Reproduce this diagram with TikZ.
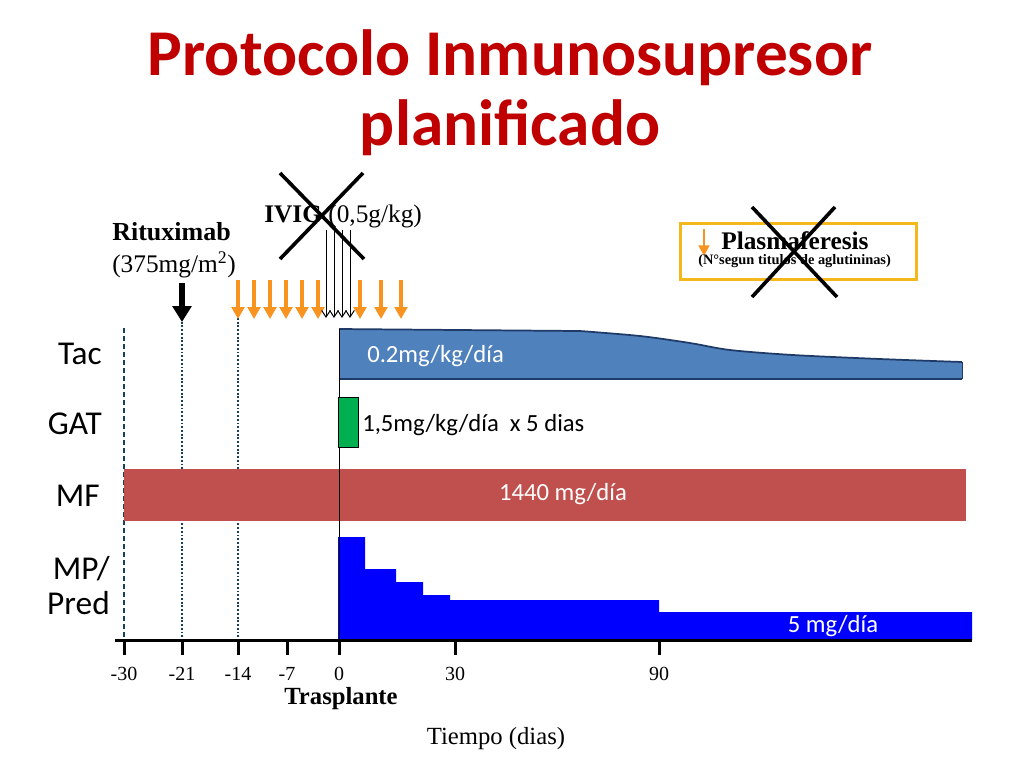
\documentclass[tikz,border=0pt]{standalone}
\usepackage{fontspec}
\setmainfont{Liberation Serif}
\newfontfamily\calfont{Carlito}
\usetikzlibrary{arrows.meta}
\definecolor{titred}{HTML}{C00000}
\definecolor{tacblue}{HTML}{4F81BD}
\definecolor{tacdark}{HTML}{1F3A66}
\definecolor{mfred}{HTML}{C0504D}
\definecolor{gatgreen}{HTML}{00B050}
\definecolor{mpblue}{HTML}{0000FF}
\definecolor{orng}{HTML}{F7931E}
\definecolor{gold}{HTML}{F5B81C}
\definecolor{guide}{HTML}{17405A}
\tikzset{
  ttl/.style={font=\calfont\bfseries\fontsize{49}{58}\selectfont, text=titred, anchor=base, inner sep=0},
  rowlab/.style={font=\calfont\fontsize{25}{30}\selectfont, anchor=base east, inner sep=0},
  inbar/.style={font=\calfont\fontsize{18.5}{22}\selectfont, inner sep=0},
  serif/.style={font=\fontsize{18}{21}\selectfont, inner sep=0},
  ticklab/.style={font=\fontsize{15}{18}\selectfont, anchor=base, inner sep=0},
  orarrow/.style={draw=orng, line width=2.4pt, -{Triangle[width=9.5pt,length=9pt]}},
  ivarrow/.style={draw=black, line width=0.75pt, -{Straight Barb[width=6.5pt,length=5pt]}},
  cross/.style={draw=black, line width=2.7pt},
  guidedash/.style={draw=guide, line width=1.1pt, dash pattern=on 3.75pt off 2.25pt},
  guidedot/.style={draw=guide, line width=2pt, dash pattern=on 1.4pt off 1.4pt},
  tick/.style={line width=2.25pt},
}
\begin{document}
\begin{tikzpicture}[x=0.75pt,y=-0.75pt]
\useasboundingbox (0,0) rectangle (1024,768);
% title
\node[ttl] (t1) at (510,75) {Protocolo Inmunosupresor};
\node[ttl] (t2) at (510,145) {planificado};

% guide lines
\coordinate (g30t) at (124,328); \coordinate (g30b) at (124,640);
\coordinate (g21t) at (182,318); \coordinate (g21b) at (182,640);
\coordinate (g14t) at (238,318); \coordinate (g14b) at (238,640);
\draw[guidedash] (g30t) -- (g30b);
\draw[guidedot] (g21t) -- (g21b);
\draw[guidedot] (g14t) -- (g14b);

% MF bar
\fill[mfred] (124,469) rectangle (966,521);
\node[inbar, text=white, anchor=base] (mftxt) at (563,500) {1440 mg/día};

% Tac bar
\fill[tacblue] (339,329) -- (578,331) -- plot[smooth] coordinates {(580,331) (640,336) (690,343) (730,350) (793,355) (880,359) (962,362)} -- (962,379) -- (339,379) -- cycle;
\draw[tacdark, line width=1.3pt] (339,329) -- (578,331) -- plot[smooth] coordinates {(580,331) (640,336) (690,343) (730,350) (793,355) (880,359) (962,362)};
\draw[tacdark, line width=1.3pt] (339,379) -- (962,379);
\draw[tacdark, line width=0.6pt] (962,362) -- (962,379);
\node[inbar, text=white, anchor=base west] (tactxt) at (367,362) {0.2mg/kg/día};

% MP/Pred staircase
\fill[mpblue] (338,640) -- (338,537) -- (365,537) -- (365,569) -- (396,569) -- (396,582) -- (423,582) -- (423,595) -- (450,595) -- (450,600) -- (659,600) -- (659,612) -- (972,612) -- (972,640) -- cycle;
\node[inbar, text=white, anchor=base] (mptxt) at (833,632) {5 mg/día};

% day-0 vertical line
\coordinate (d0t) at (339,329); \coordinate (d0b) at (339,640);
\draw[black, line width=0.75pt] (d0t) -- (d0b);

% GAT box
\draw[fill=gatgreen, draw=black, line width=0.75pt] (338,397) rectangle (358,447);
\node[inbar, anchor=base west] (gattxt) at (362,431) {1,5mg/kg/día\ \ x 5 dias};

% axis
\coordinate (axL) at (115,640); \coordinate (axR) at (972,640);
\draw[line width=2.25pt] (axL) -- (axR);
\foreach \x/\l in {124/-30,182/-21,238/-14,287/-7,339/0,455/30,659/90}{
  \draw[tick] (\x,640) -- (\x,655);
  \node[ticklab] (tk\l) at (\x,680) {\l};
}
\node[serif, font=\bfseries\fontsize{18.5}{21}\selectfont, anchor=base] (trasp) at (341,704) {Trasplante};
\node[serif, font=\fontsize{18.5}{21}\selectfont, anchor=base] (tiempo) at (496,744) {Tiempo (dias)};

% row labels
\node[rowlab] (ltac) at (102,364) {Tac};
\node[rowlab] (lgat) at (102,434) {GAT};
\node[rowlab] (lmf) at (100,506) {MF};
\node[rowlab] (lmp) at (110,579) {MP/};
\node[rowlab] (lpred) at (110,614) {Pred};

% Rituximab
\node[serif, font=\bfseries\fontsize{19.5}{22}\selectfont, anchor=base west] (ritux) at (112,240) {Rituximab};
\node[serif, font=\fontsize{19}{22}\selectfont, anchor=base west] (rdose) at (112,272) {(375mg/m\textsuperscript{2})};
\coordinate (ra1) at (182,283); \coordinate (ra2) at (182,322);
\draw[line width=4pt, -{Triangle[width=14pt,length=12pt]}] (ra1) -- (ra2);

% orange arrows
\foreach \x [count=\i] in {238,254,270,286,302,318,360,381,401}{
  \coordinate (oa\i) at (\x,280); \coordinate (ob\i) at (\x,319);
  \draw[orarrow] (oa\i) -- (ob\i);
}

% IVIG
\node[serif, font=\fontsize{19}{22}\selectfont, anchor=base west] (ivig) at (264,222) {\textbf{IVIG} (0,5g/kg)};
\foreach \x [count=\i] in {326,334,342,350}{
  \coordinate (ia\i) at (\x,230); \coordinate (ib\i) at (\x,318);
  \draw[ivarrow] (ia\i) -- (ib\i);
}
\coordinate (x1a) at (280,173); \coordinate (x1b) at (364,259);
\coordinate (x2a) at (363,173); \coordinate (x2b) at (280,259);
\draw[cross] (x1a) -- (x1b);
\draw[cross] (x2a) -- (x2b);

% Plasmaferesis box
\draw[gold, line width=2.25pt] (680,223) rectangle (916,279);
\coordinate (pa) at (704,229); \coordinate (pb) at (704,256);
\draw[draw=orng, line width=2pt, -{Triangle[width=8pt,length=8pt]}] (pa) -- (pb);
\node[serif, font=\bfseries\fontsize{19}{22}\selectfont, anchor=base west] (plasma) at (721,249) {Plasmaferesis};
\node[serif, font=\bfseries\fontsize{10.8}{13}\selectfont, anchor=base west] (plasmasub) at (698,264) {(N\textdegree segun titulos de aglutininas)};
\coordinate (y1a) at (752,207); \coordinate (y1b) at (837,297);
\coordinate (y2a) at (835,207); \coordinate (y2b) at (752,297);
\draw[cross] (y1a) -- (y1b);
\draw[cross] (y2a) -- (y2b);
\end{tikzpicture}
\end{document}
